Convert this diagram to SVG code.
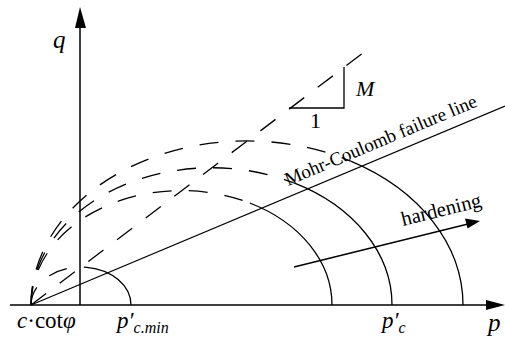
<svg xmlns="http://www.w3.org/2000/svg" width="505" height="342" viewBox="0 0 505 342">
<style>
.ln{fill:none;stroke:#000;stroke-width:1.3}
.ax{fill:none;stroke:#000;stroke-width:1.5}
.ds{fill:none;stroke:#000;stroke-width:1.3;stroke-dasharray:19 17}
.t{font-family:"Liberation Serif","Times New Roman",serif;fill:#000}
.i{font-style:italic}
</style>
<rect width="505" height="342" fill="#fff"/>
<g id="axes">
<line class="ax" x1="10" y1="305" x2="488" y2="305"/>
<polygon points="486,300 505,305 486,310" fill="#000"/>
<line class="ax" x1="80" y1="305" x2="80" y2="26"/>
<polygon points="75,28 80,7 86,28" fill="#000"/>
<text class="t i" x="53" y="48" font-size="25">q</text>
<text class="t i" x="488" y="331" font-size="25">p</text>
</g>
<g id="connectors">
<path class="ds" d="M31,305 L363,53"/>
<line class="ln" x1="31" y1="305" x2="505" y2="106"/>
<line class="ln" x1="294" y1="267" x2="468" y2="224"/>
<polygon points="480,221 465,218.5 467.5,228.5" fill="#000"/>
</g>
<g id="slope">
<polyline class="ln" points="289,108 344,108 344,67"/>
<text class="t i" x="356" y="96" font-size="22">M</text>
<text class="t" x="310" y="128" font-size="22">1</text>
</g>
<g id="surface-small">
<path class="ds" d="M31,305 A50 38 0 0 1 87,267.3"/>
<path class="ln" d="M87,267.3 A50 38 0 0 1 131,305"/>
</g>
<g id="surface-1">
<path class="ds" d="M31,305 A150.5 114.4 0 0 1 249.8,203"/>
<path class="ln" d="M249.8,203 A150.5 114.4 0 0 1 332,305"/>
</g>
<g id="surface-2">
<path class="ds" d="M31,305 A180.5 137.2 0 0 1 293.4,182.7"/>
<path class="ln" d="M293.4,182.7 A180.5 137.2 0 0 1 392,305"/>
</g>
<g id="surface-3">
<path class="ds" d="M31,305 A216 164.2 0 0 1 350.7,161.1"/>
<path class="ln" d="M350.7,161.1 A216 164.2 0 0 1 463,305"/>
</g>
<g id="labels">
<text class="t" font-size="19" transform="translate(288,186) rotate(-22.8)">Mohr-Coulomb failure line</text>
<text class="t" font-size="20.5" transform="translate(403,226) rotate(-14)">hardening</text>
<text class="t" x="17" y="328" font-size="23"><tspan class="i">c</tspan>·cot<tspan class="i">φ</tspan></text>
<text class="t i" x="117" y="328" font-size="23">p′<tspan font-size="16" dy="5">c.min</tspan></text>
<text class="t i" x="382" y="328" font-size="23">p′<tspan font-size="16" dy="5">c</tspan></text>
</g>
</svg>
